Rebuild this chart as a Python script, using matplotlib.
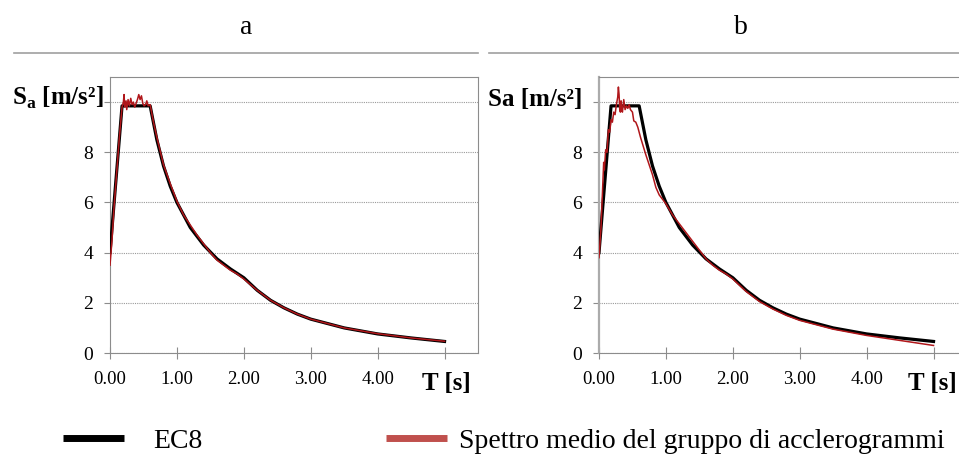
import matplotlib
matplotlib.use("Agg")
import matplotlib.pyplot as plt
from matplotlib.lines import Line2D

plt.rcParams['font.family'] = ['Liberation Serif', 'DejaVu Serif']
plt.rcParams['mathtext.fontset'] = 'custom'
plt.rcParams['mathtext.rm'] = 'Liberation Serif'
plt.rcParams['mathtext.bf'] = 'Liberation Serif:bold'

# EC8 design spectrum (periods in s, spectral acceleration in m/s^2)
ec8_T = [0.0, 0.18, 0.60, 0.70, 0.80, 0.90, 1.00, 1.20, 1.40, 1.60, 1.80,
         2.00, 2.20, 2.40, 2.60, 2.80, 3.00, 3.50, 4.00, 4.50, 5.00]
ec8_Sa = [4.0, 9.85, 9.85, 8.50, 7.45, 6.65, 6.00, 5.00, 4.30, 3.75, 3.35,
          3.00, 2.50, 2.10, 1.80, 1.55, 1.35, 1.00, 0.76, 0.60, 0.46]

# Mean spectrum of accelerogram group, case a
mean_a_T = [0.00, 0.03, 0.06, 0.10, 0.14, 0.18, 0.20, 0.21, 0.22, 0.24, 0.25,
            0.27, 0.29, 0.31, 0.33, 0.35, 0.37, 0.39, 0.41, 0.43, 0.45, 0.47,
            0.49, 0.51, 0.53, 0.55, 0.57, 0.60, 0.65, 0.70, 0.80, 0.90, 1.00,
            1.10, 1.20, 1.30, 1.40, 1.50, 1.60, 1.70, 1.80, 1.90, 2.00, 2.20,
            2.40, 2.60, 2.80, 3.00, 3.50, 4.00, 4.50, 5.00]
mean_a_Sa = [3.5, 4.5, 5.8, 7.2, 8.6, 9.8, 10.0, 10.3, 9.8, 10.05, 9.7,
             10.1, 9.85, 10.15, 9.9, 10.0, 9.8, 9.95, 10.1, 10.3, 10.1, 10.25,
             9.95, 9.85, 9.9, 10.05, 9.85, 9.9, 9.2, 8.6, 7.5, 6.75, 6.05,
             5.5, 5.1, 4.7, 4.35, 4.0, 3.7, 3.5, 3.3, 3.15, 2.95, 2.5,
             2.1, 1.8, 1.55, 1.35, 1.0, 0.77, 0.6, 0.47]

# Mean spectrum of accelerogram group, case b
mean_b_T = [0.00, 0.03, 0.05, 0.07, 0.08, 0.10, 0.12, 0.14, 0.16, 0.18, 0.20,
            0.22, 0.24, 0.26, 0.28, 0.29, 0.30, 0.31, 0.32, 0.33, 0.34, 0.35,
            0.37, 0.39, 0.41, 0.43, 0.45, 0.47, 0.50, 0.52, 0.55, 0.58, 0.62,
            0.70, 0.80, 0.85, 0.90, 1.00, 1.10, 1.20, 1.30, 1.40, 1.50, 1.60,
            1.70, 1.80, 1.90, 2.00, 2.20, 2.40, 2.60, 2.80, 3.00, 3.50, 4.00,
            4.50, 5.00]
mean_b_Sa = [3.8, 5.0, 6.3, 7.6, 7.3, 8.1, 8.0, 8.9, 8.8, 9.3, 9.2,
             9.6, 9.5, 9.9, 10.2, 10.6, 10.3, 9.7, 9.6, 10.05, 9.7, 9.6,
             10.1, 9.7, 9.85, 9.75, 9.9, 9.7, 9.6, 9.25, 9.2, 9.0, 8.6,
             7.9, 7.1, 6.6, 6.3, 5.95, 5.5, 5.15, 4.8, 4.45, 4.1, 3.75,
             3.5, 3.3, 3.15, 2.95, 2.45, 2.05, 1.75, 1.5, 1.3, 0.95, 0.7,
             0.5, 0.3]

x_ticks = [0, 1, 2, 3, 4, 5]
x_tick_labels = ['0.00', '1.00', '2.00', '3.00', '4.00', '']
y_ticks = [0, 2, 4, 6, 8, 10]
y_tick_labels = ['0', '2', '4', '6', '8', '']
panel_titles = ['a', 'b']
y_labels = [r'S$_\mathbf{a}$ [m/s²]', 'Sa [m/s²]']
x_label = 'T [s]'
legend_labels = ['EC8', 'Spettro medio del gruppo di acclerogrammi']

W, H = 959, 455
fig = plt.figure(figsize=(W / 100, H / 100), dpi=100)


def fx(px):
    return px / W


def fy(py):
    return 1 - py / H


red = '#B0161A'
spine_col = '#8C8C8C'

panels = [
    dict(x0=110, mean_T=mean_a_T, mean_Sa=mean_a_Sa, title_x=246,
         ylab_right=104, ylab_base=105, xlab_right=471),
    dict(x0=599, mean_T=mean_b_T, mean_Sa=mean_b_Sa, title_x=741,
         ylab_right=582, ylab_base=106, xlab_right=957),
]

ax_w = 368
for i, p in enumerate(panels):
    ax = fig.add_axes([fx(p['x0']), fy(353), fx(ax_w), (353 - 77) / H])
    ax.set_xlim(0, 5.5)
    ax.set_ylim(0, 11)
    ax.grid(True, axis='y', color='#9A9A9A', linestyle=(0, (1, 1)), linewidth=0.8)
    ax.set_axisbelow(True)
    ax.plot(ec8_T, ec8_Sa, color='black', linewidth=2.3, zorder=3)
    ax.plot(p['mean_T'], p['mean_Sa'], color=red, linewidth=1.1, zorder=4)
    ax.set_xticks(x_ticks)
    ax.set_xticklabels(x_tick_labels)
    ax.set_yticks(y_ticks)
    ax.set_yticklabels(y_tick_labels)
    ax.tick_params(axis='x', direction='inout', length=8.6, width=0.8,
                   color=spine_col, labelsize=13.5, pad=9.0)
    ax.tick_params(axis='y', direction='out', length=4.3, width=0.8,
                   color=spine_col, labelsize=14, pad=8.0)
    for s in ax.spines.values():
        s.set_color(spine_col)
        s.set_linewidth(0.8)
    if i == 1:
        ax.spines['left'].set_color('#ABABAB')
        ax.spines['left'].set_linewidth(1.6)

    fig.text(fx(p['title_x']), fy(27), panel_titles[i], ha='center', va='center',
             fontsize=20)
    fig.text(fx(p['ylab_right']), fy(p['ylab_base']), y_labels[i], ha='right',
             va='baseline', fontsize=18, fontweight='bold')
    fig.text(fx(p['xlab_right']), fy(390), x_label, ha='right', va='baseline',
             fontsize=18, fontweight='bold')

# header rules above each panel
fig.add_artist(Line2D([fx(14), fx(478)], [fy(53), fy(53)], color='#A0A0A0',
                      linewidth=1.2))
fig.add_artist(Line2D([fx(489), fx(959)], [fy(53), fy(53)], color='#A0A0A0',
                      linewidth=1.2))

# legend entries
handles = [Line2D([], [], color='black', linewidth=5, solid_capstyle='butt'),
           Line2D([], [], color='#C0504D', linewidth=5, solid_capstyle='butt')]
leg_x = [63, 386]
leg_pad = [1.05, 0.42]
for h, lab, lx, tp in zip(handles, legend_labels, leg_x, leg_pad):
    fig.legend(handles=[h], labels=[lab], loc='center left',
               bbox_to_anchor=(fx(lx), fy(441)), frameon=False,
               fontsize=20, handlelength=2.2, handletextpad=tp,
               borderpad=0, borderaxespad=0)

fig.savefig('out.png', dpi=100)
